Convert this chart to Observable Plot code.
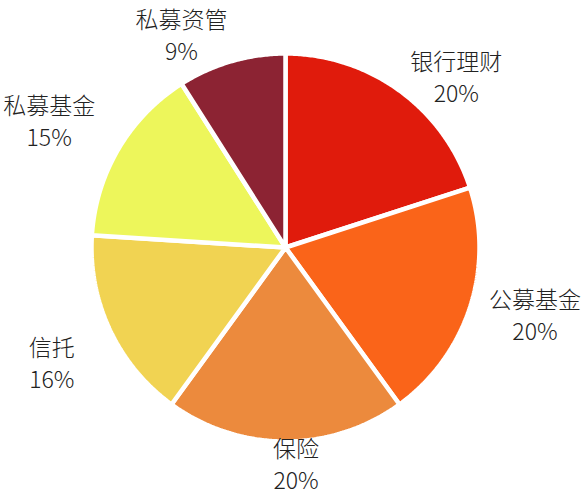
<!DOCTYPE html>
<html>
<head>
<meta charset="utf-8">
<script src="https://cdn.jsdelivr.net/npm/d3@7"></script>
<script src="https://cdn.jsdelivr.net/npm/@observablehq/plot@0.6"></script>
<style>
  html, body { margin: 0; padding: 0; background: #fff; }
  svg { display: block; }
</style>
</head>
<body>
<div id="chart"></div>
<script>
// ---- data ----
const names = ["银行理财", "公募基金", "保险", "信托", "私募基金", "私募资管"];
const shares = [20, 20, 20, 16, 15, 9];
const colors = ["#e01b0c", "#fa6419", "#ec8a3d", "#f1d352", "#edf65b", "#8c2333"];

// ---- layout (label placement around the pie) ----
const labelAngleShift = [8.8, -3.2, -2.8, -0.8, -2.2, -9.7]; // degrees
const labelRadius = [1.25, 1.33, 1.11, 1.34, 1.385, 1.227];  // in pie radii

const W = 582, H = 500;
const k = 194;          // pixels per pie radius
const cx = 285, cy = 247;

const arcs = d3.pie().sort(null).value(d => d)(shares);

const slicePts = [];
arcs.forEach((a, i) => {
  slicePts.push({name: names[i], x: 0, y: 0});
  const n = Math.max(2, Math.ceil((a.endAngle - a.startAngle) / (Math.PI / 360)));
  for (let j = 0; j <= n; j++) {
    const t = a.startAngle + (a.endAngle - a.startAngle) * j / n;
    slicePts.push({name: names[i], x: Math.sin(t), y: Math.cos(t)});
  }
});

const labels = arcs.map((a, i) => {
  const t = (a.startAngle + a.endAngle) / 2 + labelAngleShift[i] * Math.PI / 180;
  return {
    text: names[i] + "\n" + shares[i] + "%",
    x: labelRadius[i] * Math.sin(t),
    y: labelRadius[i] * Math.cos(t)
  };
});

const chart = Plot.plot({
  width: W,
  height: H,
  margin: 0,
  x: {domain: [-cx / k, (W - cx) / k], axis: null},
  y: {domain: [-(H - cy) / k, cy / k], axis: null},
  color: {type: "ordinal", domain: names, range: colors},
  style: {fontFamily: "'Noto Sans CJK SC', 'Noto Sans', sans-serif", background: "#fff"},
  marks: [
    Plot.line(slicePts, {
      x: "x", y: "y", z: "name", fill: "name",
      stroke: "#fff", strokeWidth: 4.5, strokeLinejoin: "miter",
      curve: "linear-closed"
    }),
    Plot.text(labels, {
      x: "x", y: "y", text: "text",
      fontSize: 23, fontWeight: 300, lineHeight: 1.39,
      fill: "#222", textAnchor: "middle"
    })
  ]
});

document.getElementById("chart").appendChild(chart);
</script>
</body>
</html>
